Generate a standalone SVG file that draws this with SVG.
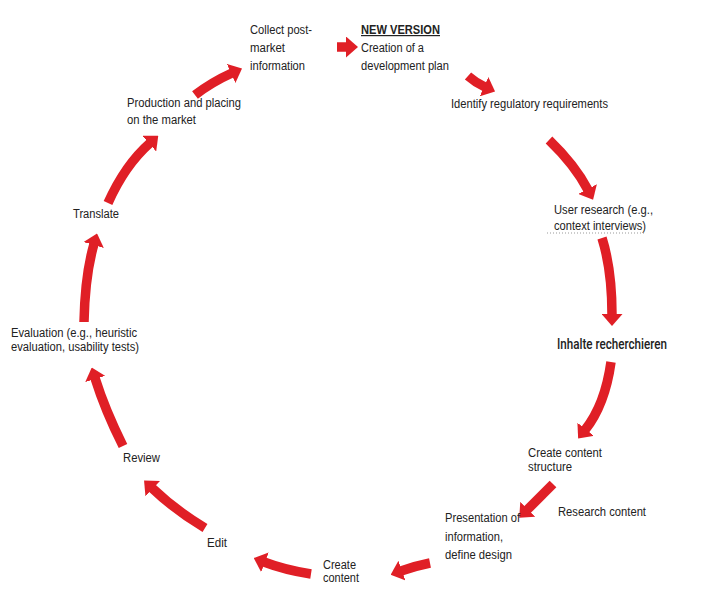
<svg xmlns="http://www.w3.org/2000/svg" width="706" height="600" viewBox="0 0 706 600">
<style>
.t{font-family:"Liberation Sans",Arial,sans-serif;font-size:12px;fill:#222}
.b{font-weight:bold;text-decoration:underline}
.ih{font-family:Roboto,"Liberation Sans",sans-serif;font-size:14px;font-weight:500;fill:#222}
.c{fill:none;stroke:#e01f26;stroke-width:9.5;marker-end:url(#ah)}
</style>
<defs>
<marker id="ah" markerUnits="userSpaceOnUse" viewBox="0 0 12 21" markerWidth="12" markerHeight="21" refX="1" refY="10.5" orient="auto">
<path d="M0,0 L12,10.5 L0,21 Z" fill="#e01f26"/>
</marker>
</defs>
<rect width="706" height="600" fill="#fff"/>
<g id="connectors">
<path class="c" d="M337,47 L347,47"/>
<path class="c" d="M468,76 Q476,83 485,87"/>
<path class="c" d="M549,140 Q575,165 588,190"/>
<path class="c" d="M602,238 Q612,270 612,315"/>
<path class="c" d="M611,362 Q605,405 585,430"/>
<path class="c" d="M553,484 L527,510"/>
<path class="c" d="M430,563 Q415,566 401,571"/>
<path class="c" d="M311,574 Q285,570 264,562"/>
<path class="c" d="M205,528 Q175,510 152,488"/>
<path class="c" d="M123,446 Q105,410 95,378"/>
<path class="c" d="M84,322 Q85,275 94,244"/>
<path class="c" d="M108,203 Q125,165 150,143"/>
<path class="c" d="M195,95 Q212,82 232,73"/>
</g>
<g id="collect"><text class="t" x="250" y="34" textLength="62" lengthAdjust="spacingAndGlyphs">Collect post-</text><text class="t" x="250" y="52" textLength="35" lengthAdjust="spacingAndGlyphs">market</text><text class="t" x="250" y="70" textLength="55" lengthAdjust="spacingAndGlyphs">information</text></g>
<g id="newversion"><text class="t b" x="361" y="34" textLength="79" lengthAdjust="spacingAndGlyphs">NEW VERSION</text><text class="t" x="361" y="52" textLength="63" lengthAdjust="spacingAndGlyphs">Creation of a</text><text class="t" x="361" y="70" textLength="88" lengthAdjust="spacingAndGlyphs">development plan</text></g>
<g id="identify"><text class="t" x="451" y="108" textLength="157" lengthAdjust="spacingAndGlyphs">Identify regulatory requirements</text></g>
<g id="userresearch"><text class="t" x="554" y="214" textLength="99" lengthAdjust="spacingAndGlyphs">User research (e.g.,</text><text class="t" x="554" y="230" textLength="92" lengthAdjust="spacingAndGlyphs">context interviews)</text><line x1="547" y1="233" x2="644" y2="233" stroke="#999" stroke-width="1" stroke-dasharray="1,2"/></g>
<g id="inhalte"><text class="ih" x="557" y="349" textLength="110" lengthAdjust="spacingAndGlyphs">Inhalte recherchieren</text></g>
<g id="structure"><text class="t" x="528" y="457" textLength="74" lengthAdjust="spacingAndGlyphs">Create content</text><text class="t" x="528" y="471" textLength="44" lengthAdjust="spacingAndGlyphs">structure</text></g>
<g id="research"><text class="t" x="558" y="516" textLength="88" lengthAdjust="spacingAndGlyphs">Research content</text></g>
<g id="presentation"><text class="t" x="445" y="522" textLength="75" lengthAdjust="spacingAndGlyphs">Presentation of</text><text class="t" x="445" y="541" textLength="58" lengthAdjust="spacingAndGlyphs">information,</text><text class="t" x="445" y="559" textLength="67" lengthAdjust="spacingAndGlyphs">define design</text></g>
<g id="createcontent"><text class="t" x="323" y="569" textLength="33" lengthAdjust="spacingAndGlyphs">Create</text><text class="t" x="323" y="582" textLength="36" lengthAdjust="spacingAndGlyphs">content</text></g>
<g id="edit"><text class="t" x="207" y="547" textLength="20" lengthAdjust="spacingAndGlyphs">Edit</text></g>
<g id="review"><text class="t" x="123" y="462" textLength="37" lengthAdjust="spacingAndGlyphs">Review</text></g>
<g id="evaluation"><text class="t" x="11" y="337" textLength="126" lengthAdjust="spacingAndGlyphs">Evaluation (e.g., heuristic</text><text class="t" x="11" y="351" textLength="128" lengthAdjust="spacingAndGlyphs">evaluation, usability tests)</text></g>
<g id="translate"><text class="t" x="73" y="218" textLength="46" lengthAdjust="spacingAndGlyphs">Translate</text></g>
<g id="production"><text class="t" x="127" y="107" textLength="114" lengthAdjust="spacingAndGlyphs">Production and placing</text><text class="t" x="127" y="124" textLength="69" lengthAdjust="spacingAndGlyphs">on the market</text></g>
</svg>
